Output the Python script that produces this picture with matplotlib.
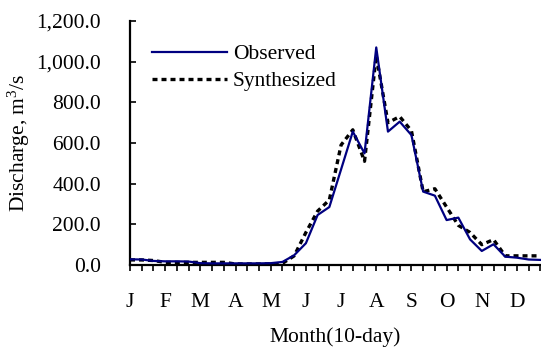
import matplotlib
matplotlib.use("Agg")
import matplotlib.pyplot as plt
import numpy as np

plt.rcParams['font.family'] = ['Liberation Serif', 'DejaVu Serif']
plt.rcParams['mathtext.fontset'] = 'custom'
plt.rcParams['mathtext.rm'] = 'Liberation Serif'
plt.rcParams['mathtext.it'] = 'Liberation Serif:italic'

months = ['J', 'F', 'M', 'A', 'M', 'J', 'J', 'A', 'S', 'O', 'N', 'D']
observed = [28, 27, 20, 18, 18, 17, 9, 8, 8, 8, 8, 8, 9, 15, 48, 107, 246, 285,
            470, 656, 549, 1070, 656, 705, 639, 361, 341, 221, 233, 126, 69, 102,
            41, 36, 27, 25]
synthesized = [25, 25, 22, 13, 13, 13, 13, 13, 13, 5, 5, 5, 5, 8, 45, 160, 265, 320,
               590, 665, 510, 1030, 700, 730, 660, 360, 375, 285, 195, 160, 100, 125,
               45, 45, 45, 45]
y_ticks = [0, 200, 400, 600, 800, 1000, 1200]

W, H = 541, 347
fig = plt.figure(figsize=(W / 100, H / 100), dpi=100)
ax = fig.add_axes([130 / W, 82 / H, (W - 130) / W, 244 / H])

x = np.arange(len(observed))
ax.plot(x, observed, color='#000080', lw=1.6, label='Observed', zorder=3)
ax.plot(x, synthesized, color='black', lw=2.4, linestyle=(0, (1.5, 1.2)),
        dash_capstyle='butt', label='Synthesized', zorder=2)

ax.set_xlim(0, 35.05)
ax.set_ylim(0, 1200)
ax.set_yticks(y_ticks)
ax.set_yticklabels([f'{v:,.1f}' for v in y_ticks])
ax.set_xticks(np.arange(0, 36, 3))
ax.set_xticklabels(months)
ax.set_xticks(np.arange(0, 36, 1), minor=True)

fs = 15.5
ax.tick_params(axis='y', direction='in', length=4.5, width=1.2, labelsize=fs, pad=21)
ax.tick_params(axis='x', which='both', direction='out', length=4, width=1.2,
               labelsize=fs, pad=16)
for s in ['top', 'right']:
    ax.spines[s].set_visible(False)
for s in ['left', 'bottom']:
    ax.spines[s].set_linewidth(1.6)

ax.set_xlabel('Month(10-day)', fontsize=fs, labelpad=11)
ax.set_ylabel('Discharge, m$^3$/s', fontsize=fs, labelpad=3)

leg = ax.legend(loc='upper left', bbox_to_anchor=(0.0535, 0.905), frameon=False,
                fontsize=fs, handlelength=3.5, handletextpad=0.25,
                labelspacing=0.33, borderpad=0, borderaxespad=0)

fig.savefig('out.png', dpi=100)
